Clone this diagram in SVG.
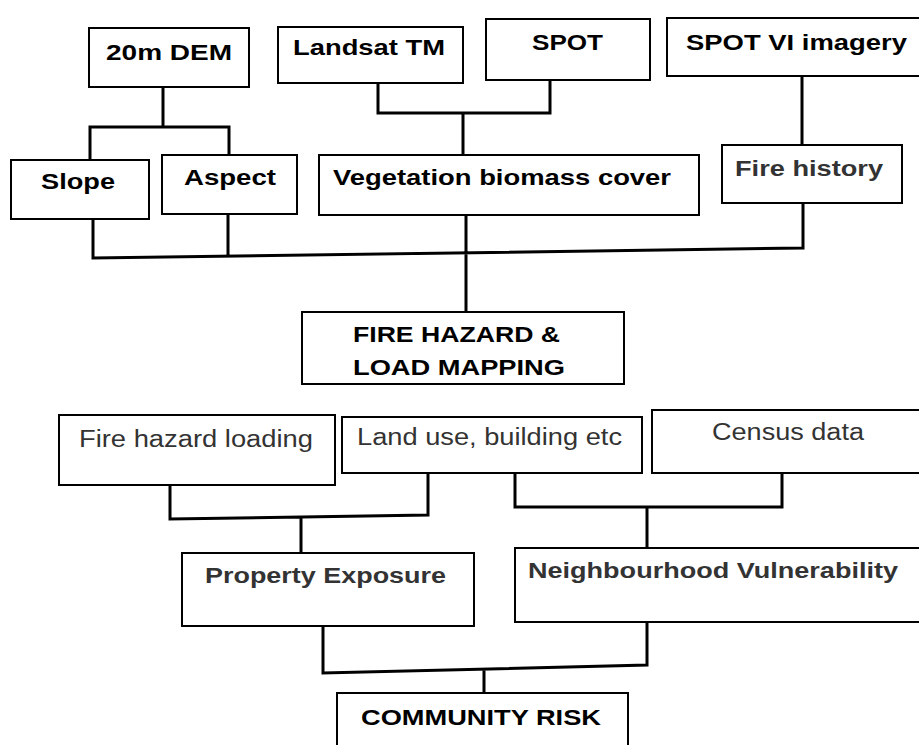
<svg xmlns="http://www.w3.org/2000/svg" width="919" height="745" viewBox="0 0 919 745">
<style>
.box{fill:#fff;stroke:#000;stroke-width:2}
.conn{fill:none;stroke:#000;stroke-width:3;stroke-linejoin:miter}
.tb{font-family:"Liberation Sans",Arial,sans-serif;font-weight:bold;font-size:22px;fill:#000}
.tm{font-family:"Liberation Sans",Arial,sans-serif;font-weight:bold;font-size:22px;fill:#333}
.tr{font-family:"Liberation Sans",Arial,sans-serif;font-weight:normal;font-size:23px;fill:#333}
</style>
<rect width="919" height="745" fill="#fff"/>
<g id="connectors">
<path class="conn" d="M163,87 V127 M90,160 V127 H229 V155"/>
<path class="conn" d="M378,83 V113 H550 V80 M463,113 V155"/>
<path class="conn" d="M802,77 V145"/>
<path class="conn" d="M93,219 V258 L803,248 V203 M228,214 V256 M466,215 V312"/>
<path class="conn" d="M170,485 V519 L428,515 V473 M301,518 V553"/>
<path class="conn" d="M515,473 V507 H782 V473 M647,507 V548"/>
<path class="conn" d="M323,626 V673 L647,665 V622 M484,669 V693"/>
</g>
<g id="dem"><rect class="box" x="89" y="28" width="160" height="59"/><text class="tb" x="106" y="60" textLength="126" lengthAdjust="spacingAndGlyphs">20m DEM</text></g>
<g id="landsat"><rect class="box" x="278" y="27" width="185" height="56"/><text class="tb" x="293" y="55" textLength="152" lengthAdjust="spacingAndGlyphs">Landsat TM</text></g>
<g id="spot"><rect class="box" x="486" y="19" width="164" height="61"/><text class="tb" x="532" y="50" textLength="71" lengthAdjust="spacingAndGlyphs">SPOT</text></g>
<g id="spotvi"><rect class="box" x="667" y="18" width="270" height="58"/><text class="tb" x="686" y="50" textLength="221" lengthAdjust="spacingAndGlyphs">SPOT VI imagery</text></g>
<g id="slope"><rect class="box" x="11" y="160" width="138" height="59"/><text class="tb" x="41" y="189" textLength="74" lengthAdjust="spacingAndGlyphs">Slope</text></g>
<g id="aspect"><rect class="box" x="162" y="155" width="135" height="59"/><text class="tb" x="184" y="185" textLength="92" lengthAdjust="spacingAndGlyphs">Aspect</text></g>
<g id="vegetation"><rect class="box" x="319" y="155" width="380" height="60"/><text class="tb" x="333" y="185" textLength="338" lengthAdjust="spacingAndGlyphs">Vegetation biomass cover</text></g>
<g id="firehistory"><rect class="box" x="722" y="145" width="180" height="58"/><text class="tm" x="735" y="176" textLength="148" lengthAdjust="spacingAndGlyphs">Fire history</text></g>
<g id="firehazard"><rect class="box" x="302" y="312" width="322" height="72"/><text class="tb" x="353" y="342" textLength="207" lengthAdjust="spacingAndGlyphs">FIRE HAZARD &amp;</text><text class="tb" x="353" y="375" textLength="212" lengthAdjust="spacingAndGlyphs">LOAD MAPPING</text></g>
<g id="fireloading"><rect class="box" x="59" y="415" width="276" height="70"/><text class="tr" x="79" y="447" textLength="234" lengthAdjust="spacingAndGlyphs">Fire hazard loading</text></g>
<g id="landuse"><rect class="box" x="342" y="417" width="300" height="56"/><text class="tr" x="357" y="445" textLength="265" lengthAdjust="spacingAndGlyphs">Land use, building etc</text></g>
<g id="census"><rect class="box" x="652" y="410" width="285" height="63"/><text class="tr" x="712" y="440" textLength="152" lengthAdjust="spacingAndGlyphs">Census data</text></g>
<g id="property"><rect class="box" x="182" y="553" width="292" height="73"/><text class="tm" x="205" y="583" textLength="241" lengthAdjust="spacingAndGlyphs">Property Exposure</text></g>
<g id="neighbourhood"><rect class="box" x="515" y="548" width="422" height="74"/><text class="tm" x="528" y="578" textLength="370" lengthAdjust="spacingAndGlyphs">Neighbourhood Vulnerability</text></g>
<g id="community"><rect class="box" x="337" y="693" width="291" height="70"/><text class="tb" x="361" y="725" textLength="240" lengthAdjust="spacingAndGlyphs">COMMUNITY RISK</text></g>
</svg>
